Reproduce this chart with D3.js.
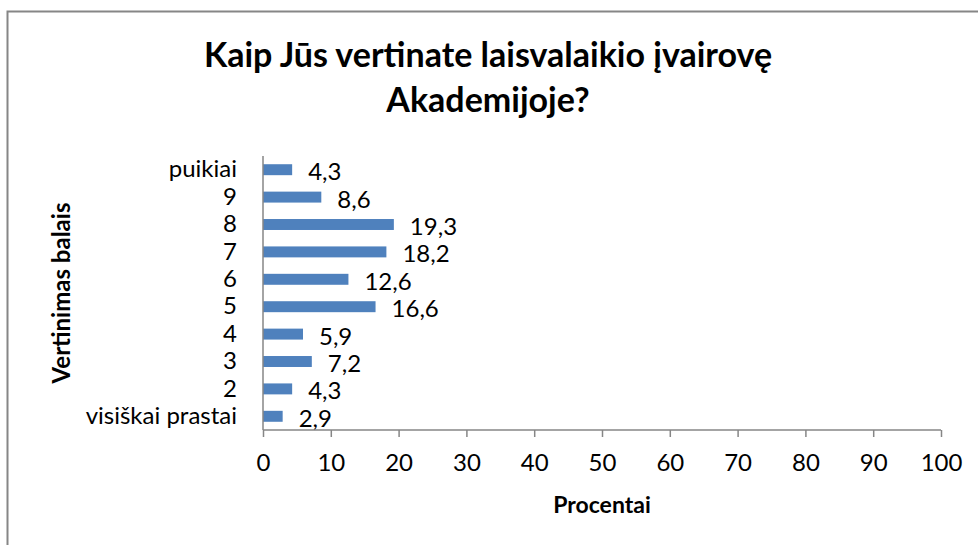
<!DOCTYPE html>
<html>
<head>
<meta charset="utf-8">
<script src="https://cdn.jsdelivr.net/npm/d3@7"></script>
<style>
  html, body { margin: 0; padding: 0; background: #ffffff; }
  svg { display: block; }
  text { font-family: Lato, "Noto Sans", sans-serif; fill: #000; }
</style>
</head>
<body>
<svg id="chart" width="978" height="545"></svg>
<script>
// Rating categories, listed from top of the chart to bottom
const categories = ["puikiai", "9", "8", "7", "6", "5", "4", "3", "2", "visiškai prastai"];
// Share of respondents per rating, in percent
const values = [4.3, 8.6, 19.3, 18.2, 12.6, 16.6, 5.9, 7.2, 4.3, 2.9];
// Percent axis ticks
const xTicks = [0, 10, 20, 30, 40, 50, 60, 70, 80, 90, 100];

const titleLines = ["Kaip Jūs vertinate laisvalaikio įvairovę", "Akademijoje?"];
const xTitle = "Procentai";
const yTitle = "Vertinimas balais";

const svg = d3.select("#chart");
const axisColor = "#868686";
const barColor = "#4f81bd";
const labelSize = "24px";

// Chart frame
svg.append("rect")
  .attr("x", 7.5).attr("y", 11.5)
  .attr("width", 1000).attr("height", 600)
  .attr("fill", "#fff")
  .attr("stroke", axisColor)
  .attr("stroke-width", 2);

const plot = { left: 263, right: 941, top: 156, bottom: 430 };

const x = d3.scaleLinear().domain([0, 100]).range([plot.left, plot.right]);
const y = d3.scaleBand().domain(categories).range([plot.top, plot.bottom]).paddingInner(0.6).paddingOuter(0.3);

// Title
svg.append("text")
  .attr("x", 488).attr("text-anchor", "middle")
  .style("font-weight", "bold").style("font-size", "34px")
  .selectAll("tspan").data(titleLines).join("tspan")
  .attr("x", 488)
  .attr("y", (d, i) => 67 + i * 45)
  .text(d => d);

// Bars
svg.append("g").selectAll("rect").data(values).join("rect")
  .attr("x", x(0))
  .attr("y", (d, i) => y(categories[i]))
  .attr("width", d => x(d) - x(0))
  .attr("height", y.bandwidth())
  .attr("fill", barColor);

// Value labels
const fmt = v => d3.format(".1f")(v).replace(".", ",");
svg.append("g").selectAll("text").data(values).join("text")
  .attr("x", d => x(d) + 16)
  .attr("y", (d, i) => y(categories[i]) + y.bandwidth() / 2 + 2)
  .attr("dy", "0.35em")
  .style("font-size", labelSize)
  .text(d => fmt(d));

// Category axis
const yAxis = svg.append("g")
  .attr("transform", `translate(${plot.left},0)`)
  .call(d3.axisLeft(y).tickSize(0).tickPadding(26));
yAxis.select(".domain").attr("stroke", axisColor).attr("stroke-width", 1.5)
  .attr("d", `M0,${plot.top}V${plot.bottom}`);
yAxis.selectAll("text").style("font-size", labelSize).style("font-family", "Lato, sans-serif").attr("fill", "#000");

// Percent axis
const xAxis = svg.append("g")
  .attr("transform", `translate(0,${plot.bottom})`)
  .call(d3.axisBottom(x).tickValues(xTicks).tickSize(7).tickPadding(17).tickFormat(d3.format("d")));
xAxis.select(".domain").attr("stroke", axisColor).attr("stroke-width", 1.5)
  .attr("d", `M${plot.left},0H${plot.right}`);
xAxis.selectAll(".tick line").attr("stroke", axisColor).attr("stroke-width", 1.5);
xAxis.selectAll("text").style("font-size", labelSize).style("font-family", "Lato, sans-serif").attr("fill", "#000");

// Axis titles
svg.append("text")
  .attr("x", (plot.left + plot.right) / 2).attr("y", 513)
  .attr("text-anchor", "middle")
  .style("font-weight", "bold").style("font-size", "23px")
  .text(xTitle);

svg.append("text")
  .attr("transform", "translate(70,293) rotate(-90)")
  .attr("text-anchor", "middle")
  .style("font-weight", "bold").style("font-size", "24px")
  .text(yTitle);
</script>
</body>
</html>
